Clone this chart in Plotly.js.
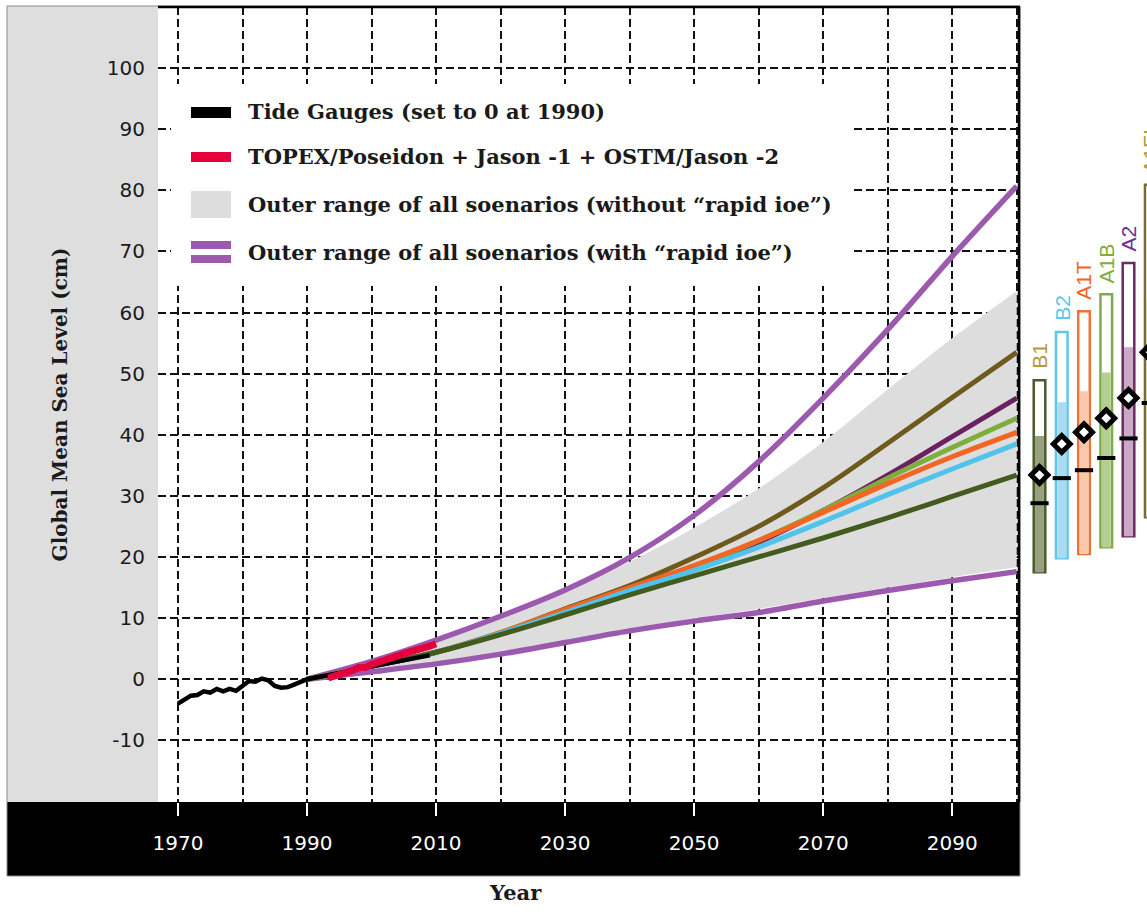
<!DOCTYPE html>
<html>
<head>
<meta charset="utf-8">
<script src="https://cdn.plot.ly/plotly-3.0.1.min.js"></script>
<style>
  html, body { margin: 0; padding: 0; overflow: hidden; background: #fff; }
  #chart { width: 1175px; height: 924px; }
</style>
</head>
<body>
<div id="chart"></div>
<script>
// ---- observations ----
const tideYears = [1970, 1971, 1972, 1973, 1974, 1975, 1976, 1977, 1978, 1979,
                   1980, 1981, 1982, 1983, 1984, 1985, 1986, 1987, 1988, 1989,
                   1990, 1991, 1992, 1993, 1994, 1995, 1996, 1997, 1998, 1999,
                   2000, 2001, 2002, 2003, 2004, 2005, 2006, 2007, 2008, 2009];
const tideLevel = [-4.0, -3.3, -2.7, -2.6, -2.0, -2.2, -1.6, -2.0, -1.6, -1.9,
                   -1.2, -0.3, -0.4, 0.1, -0.2, -1.1, -1.4, -1.3, -0.9, -0.5,
                   0.0, 0.2, 0.4, 0.5, 0.7, 1.0, 1.2, 1.4, 1.7, 1.9,
                   2.1, 2.3, 2.5, 2.8, 2.9, 3.1, 3.3, 3.5, 3.7, 3.9];

const satYears = [1993.3, 1994, 1995, 1996, 1997, 1998, 1999, 2000, 2001, 2002,
                  2003, 2004, 2005, 2006, 2007, 2008, 2009, 2010];
const satLevel = [0.2, 0.4, 0.7, 1.1, 1.4, 1.9, 1.9, 2.4, 2.8, 3.1,
                  3.5, 3.8, 4.1, 4.5, 4.8, 5.0, 5.4, 5.8];

// ---- projections (cm relative to 1990) ----
const projYears = [1990, 2000, 2010, 2020, 2030, 2040, 2050, 2060, 2070, 2080, 2090, 2100];
const rangeNoIceLow  = [0, 1.3, 2.7, 4.4, 6.3, 8.2, 9.9, 11.5, 13.3, 15.0, 16.7, 18.3];
const rangeNoIceHigh = [0, 2.8, 6.2, 10.0, 14.2, 19.2, 24.8, 31.2, 38.8, 47.4, 55.8, 63.5];
const rangeIceLow    = [0, 1.2, 2.5, 4.1, 6.0, 7.9, 9.5, 10.9, 12.8, 14.5, 16.1, 17.6];
const rangeIceHigh   = [0, 2.9, 6.4, 10.3, 14.6, 19.9, 26.8, 35.6, 46.0, 57.2, 69.2, 80.7];

const scenB1   = [0, 2.1, 4.4, 7.3, 10.5, 13.8, 16.9, 20.0, 23.1, 26.4, 29.9, 33.4];
const scenB2   = [0, 2.1, 4.4, 7.5, 10.9, 14.5, 17.8, 21.6, 25.8, 30.2, 34.4, 38.5];
const scenA1T  = [0, 2.1, 4.4, 7.6, 11.4, 15.0, 18.6, 22.7, 27.3, 32.0, 36.4, 40.4];
const scenA1B  = [0, 2.1, 4.4, 7.6, 11.3, 14.8, 18.4, 22.7, 27.6, 32.9, 37.9, 42.7];
const scenA2   = [0, 2.1, 4.4, 7.5, 11.0, 14.5, 18.1, 22.4, 27.6, 33.4, 39.7, 46.0];
const scenA1FI = [0, 2.1, 4.4, 7.6, 11.5, 15.3, 19.9, 25.0, 31.3, 38.6, 46.1, 53.5];

// ---- 2100 ranges per scenario (side panel) ----
const scenarioNames = ['B1', 'B2', 'A1T', 'A1B', 'A2', 'A1FI'];
const rangeBottom   = [17.5, 19.8, 20.5, 21.6, 23.4, 26.5];
const rangeTop      = [48.9, 56.8, 60.2, 63.0, 68.1, 80.9];
const likelyTop     = [39.8, 45.3, 47.1, 50.2, 54.3, 62.0];
const centralMark   = [28.8, 32.9, 34.2, 36.2, 39.4, 45.2];

// tick labels
const yearTicks = [1970, 1990, 2010, 2030, 2050, 2070, 2090];
const levelTicks = [-10, 0, 10, 20, 30, 40, 50, 60, 70, 80, 90, 100];

// ---- colours ----
const C = {
  tide: '#000000', sat: '#e5003b', band: '#dddddd', ice: '#9b5aae',
  B1: '#435b1d', B2: '#4fc3ec', A1T: '#f26522', A1B: '#7eae3e', A2: '#6b2060', A1FI: '#6e5a1c'
};
const scenarioSeries = { B1: scenB1, B2: scenB2, A1T: scenA1T, A1B: scenA1B, A2: scenA2, A1FI: scenA1FI };
const barEdge  = ['#4b5a2a', '#5cc6ee', '#f07232', '#80ab4c', '#6c2a62', '#7a6a34'];
const barFill  = ['#979f7e', '#a9dcf2', '#f8c9ad', '#b5cf93', '#c9a9c6', '#d9d0b6'];
const labelCol = ['#b59a3c', '#5cc6ee', '#f26522', '#7eae3e', '#6b3090', '#b59a3c'];

// ---- geometry helpers (page px -> paper fraction) ----
const W = 1175, H = 924, ML = 158, MT = 7, MB = 122;
const PW = W - ML, PH = H - MT - MB;
const px = v => (v - ML) / PW;
const py = v => (H - MB - v) / PH;

const traces = [];
const skip = { hoverinfo: 'skip', showlegend: false };

// outer range without rapid ice (shaded)
traces.push(Object.assign({ x: projYears, y: rangeNoIceLow, mode: 'lines',
  line: { width: 0, color: C.band, shape: 'spline' } }, skip));
traces.push(Object.assign({ x: projYears, y: rangeNoIceHigh, mode: 'lines', fill: 'tonexty',
  fillcolor: C.band, line: { width: 0, color: C.band, shape: 'spline' } }, skip));

// outer range with rapid ice
traces.push(Object.assign({ x: projYears, y: rangeIceLow, mode: 'lines', line: { width: 5.5, color: C.ice, shape: 'spline' } }, skip));
traces.push(Object.assign({ x: projYears, y: rangeIceHigh, mode: 'lines', line: { width: 5.5, color: C.ice, shape: 'spline' } }, skip));

// scenario curves
['A1FI', 'A2', 'A1B', 'A1T', 'B2', 'B1'].forEach(k => {
  traces.push(Object.assign({ x: projYears, y: scenarioSeries[k], mode: 'lines',
    line: { width: 5, color: C[k], shape: 'spline' } }, skip));
});

// observations
traces.push(Object.assign({ x: tideYears, y: tideLevel, mode: 'lines', line: { width: 4.5, color: C.tide } }, skip));
traces.push(Object.assign({ x: satYears, y: satLevel, mode: 'lines', line: { width: 7, color: C.sat } }, skip));

// side panel: 2100 ranges
traces.push(Object.assign({ type: 'bar', x: scenarioNames, base: rangeBottom,
  y: rangeTop.map((t, i) => t - rangeBottom[i]), width: 0.52,
  marker: { color: '#ffffff', line: { color: barEdge, width: 2.5 } },
  xaxis: 'x2', yaxis: 'y2' }, skip));
traces.push(Object.assign({ type: 'bar', x: scenarioNames, base: rangeBottom,
  y: likelyTop.map((t, i) => t - rangeBottom[i]), width: 0.4,
  marker: { color: barFill, line: { width: 0 } },
  xaxis: 'x2', yaxis: 'y2' }, skip));
traces.push(Object.assign({ type: 'scatter', mode: 'markers', x: scenarioNames, y: centralMark,
  marker: { symbol: 'line-ew', size: 13, line: { width: 4, color: '#000' } },
  xaxis: 'x2', yaxis: 'y2' }, skip));
traces.push(Object.assign({ type: 'scatter', mode: 'markers', x: scenarioNames,
  y: scenarioNames.map(k => scenarioSeries[k][scenarioSeries[k].length - 1]),
  marker: { symbol: 'diamond', size: 13, color: '#ffffff', line: { width: 5, color: '#000' } },
  xaxis: 'x2', yaxis: 'y2', cliponaxis: false }, skip));

const gridStyle = { showgrid: true, gridcolor: '#111', gridwidth: 2, griddash: '8px,4px' };

const shapes = [
  // grey label panel on the left
  { type: 'rect', xref: 'paper', yref: 'paper', x0: px(7), x1: 0, y0: 0, y1: py(6),
    fillcolor: '#dedede', line: { width: 0 }, layer: 'below' },
  // black band under the time axis
  { type: 'rect', xref: 'paper', yref: 'paper', x0: px(7), x1: px(1020), y0: py(876), y1: 0,
    fillcolor: '#000', line: { width: 0 }, layer: 'below' },
  // frame
  { type: 'rect', xref: 'paper', yref: 'paper', x0: px(7), x1: px(1020), y0: py(876), y1: py(6),
    line: { color: '#8a8a8a', width: 1 }, layer: 'above' },
  { type: 'line', xref: 'paper', yref: 'paper', x0: 0, x1: px(1020), y0: 1, y1: 1,
    line: { color: '#000', width: 2.5 }, layer: 'above' },
  { type: 'line', xref: 'paper', yref: 'paper', x0: px(1019), x1: px(1019), y0: 0, y1: 1,
    line: { color: '#000', width: 2.5 }, layer: 'above' },
  // key
  { type: 'rect', xref: 'paper', yref: 'paper', x0: px(171), x1: px(851), y0: py(286), y1: py(84),
    fillcolor: '#fff', line: { width: 0 }, layer: 'above' },
  { type: 'rect', xref: 'paper', yref: 'paper', x0: px(191), x1: px(231), y0: py(118), y1: py(107),
    fillcolor: C.tide, line: { width: 0 }, layer: 'above' },
  { type: 'rect', xref: 'paper', yref: 'paper', x0: px(191), x1: px(231), y0: py(162), y1: py(152),
    fillcolor: C.sat, line: { width: 0 }, layer: 'above' },
  { type: 'rect', xref: 'paper', yref: 'paper', x0: px(191), x1: px(231), y0: py(218), y1: py(191),
    fillcolor: C.band, line: { width: 0 }, layer: 'above' },
  { type: 'rect', xref: 'paper', yref: 'paper', x0: px(191), x1: px(231), y0: py(249), y1: py(241),
    fillcolor: C.ice, line: { width: 0 }, layer: 'above' },
  { type: 'rect', xref: 'paper', yref: 'paper', x0: px(191), x1: px(231), y0: py(263), y1: py(255),
    fillcolor: C.ice, line: { width: 0 }, layer: 'above' }
];

const keyFont = { family: 'DejaVu Serif', size: 21, weight: 'bold', color: '#1a1a1a' };
const keyText = [
  'Tide Gauges (set to 0 at 1990)',
  'TOPEX/Poseidon + Jason -1 + OSTM/Jason -2',
  'Outer range of all soenarios (without “rapid ioe”)',
  'Outer range of all soenarios (with “rapid ioe”)'
];
const keyRows = [112, 157, 205, 252];

const annotations = keyText.map((t, i) => ({
  xref: 'paper', yref: 'paper', x: px(246), y: py(keyRows[i]), xanchor: 'left', yanchor: 'middle',
  text: t, showarrow: false, font: keyFont
}));

annotations.push({
  xref: 'paper', yref: 'paper', x: px(515), y: py(892), xanchor: 'center', yanchor: 'middle',
  text: 'Year', showarrow: false,
  font: { family: 'DejaVu Serif', size: 21, weight: 'bold', color: '#1a1a1a' }
});

scenarioNames.forEach((n, i) => {
  annotations.push({
    xref: 'x2', yref: 'y2', x: n, y: rangeTop[i], xanchor: 'center', yanchor: 'bottom', yshift: 9,
    text: n, textangle: -90, showarrow: false,
    font: { family: 'Liberation Sans', size: 21, color: labelCol[i] }
  });
});

const layout = {
  width: W, height: H,
  margin: { l: ML, r: 0, t: MT, b: MB, pad: 0 },
  paper_bgcolor: '#fff', plot_bgcolor: '#fff',
  showlegend: false, barmode: 'overlay', hovermode: false,
  xaxis: Object.assign({
    domain: [0, px(1018)], range: [1966.9, 2100.2],
    tickmode: 'array', tickvals: yearTicks, ticktext: yearTicks.map(String),
    ticks: 'outside', ticklen: 13, tickwidth: 2, tickcolor: '#fff',
    tickfont: { family: 'DejaVu Sans', size: 20, color: '#fff' }, ticklabelstandoff: 10,
    minor: { tick0: 1970, dtick: 10, showgrid: true, gridcolor: '#111', gridwidth: 2, griddash: '8px,4px', ticks: '' },
    zeroline: false, showline: false, fixedrange: true
  }, gridStyle),
  yaxis: Object.assign({
    domain: [0, 1], range: [-20.1, 110.0],
    tickmode: 'array', tickvals: levelTicks, ticktext: levelTicks.map(String),
    ticks: '', ticklabelstandoff: 12,
    tickfont: { family: 'DejaVu Sans', size: 20, color: '#1a1a1a' },
    title: { text: 'Global Mean Sea Level (cm)', standoff: 33,
      font: { family: 'DejaVu Serif', size: 20, weight: 'bold', color: '#1a1a1a' } },
    zeroline: false, showline: false, fixedrange: true
  }, gridStyle),
  xaxis2: { domain: [px(1025), 1], anchor: 'y2', type: 'category', categoryorder: 'array',
    categoryarray: scenarioNames, range: [-0.652, 6.09], visible: false, fixedrange: true },
  yaxis2: { domain: [0, 1], anchor: 'x2', range: [-20.1, 110.0], visible: false, fixedrange: true },
  shapes: shapes,
  annotations: annotations
};

Plotly.newPlot('chart', traces, layout, { displayModeBar: false, staticPlot: true });
</script>
</body>
</html>
